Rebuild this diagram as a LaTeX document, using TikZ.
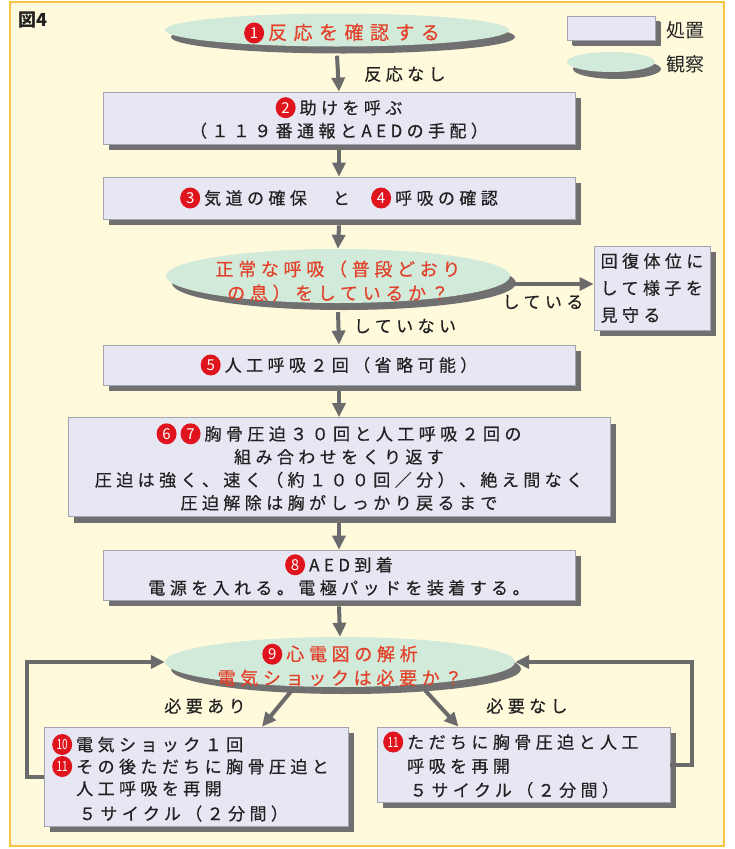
\documentclass[tikz,border=0pt]{standalone}
\usepackage{fontspec}
\usetikzlibrary{arrows.meta,shadows,shapes.geometric}
\newfontfamily\jp[LetterSpace=26,FakeBold=0.5]{Noto Sans CJK JP}
\newfontfamily\jpw[LetterSpace=34,FakeBold=0.5]{Noto Sans CJK JP}
\newfontfamily\jpn{Noto Sans CJK JP}
\definecolor{bgy}{HTML}{FFFADC}
\definecolor{framec}{HTML}{F5C446}
\definecolor{boxf}{HTML}{E7E6F3}
\definecolor{boxd}{HTML}{A4A4B0}
\definecolor{shad}{HTML}{707070}
\definecolor{ellf}{HTML}{D2EADA}
\definecolor{redt}{HTML}{E2412A}
\definecolor{numred}{HTML}{E0141C}
\definecolor{arr}{HTML}{6B6B6B}
\definecolor{txt}{HTML}{222222}
\newcommand\cnum[1]{\tikz[baseline=-6.5pt]\node[ellipse,fill=numred,text=white,inner sep=0pt,minimum width=20pt,minimum height=21pt,font=\jpn\fontsize{15}{15}\selectfont] (cn) {#1};\hspace{4pt}}
\newcommand\cnumd[1]{\tikz[baseline=-6.5pt]\node[ellipse,fill=numred,text=white,inner sep=0pt,minimum width=20pt,minimum height=21pt,font=\jpn\fontsize{14}{14}\selectfont] (cn) {\scalebox{0.72}[1]{#1}};\hspace{4pt}}
\tikzset{
  proc/.style={rectangle, fill=boxf, draw=boxd, line width=0.8pt,
    drop shadow={shadow xshift=6pt, shadow yshift=-6pt, fill=shad, opacity=1},
    text=txt, font=\jp\fontsize{17}{23}\selectfont, inner sep=2pt, align=center},
  obs/.style={ellipse, fill=ellf, draw=none, inner sep=0pt,
    drop shadow={shadow xshift=6pt, shadow yshift=-7pt, fill=shad, opacity=1}},
  etext/.style={text=redt, font=\jp\fontsize{18}{24}\selectfont, align=center, inner sep=0pt},
  flow/.style={draw=arr, line width=4pt, -{Triangle[length=14pt,width=13pt]}},
  lab/.style={text=txt, font=\jp\fontsize{17}{20}\selectfont, inner sep=0pt},
}
\begin{document}
\begin{tikzpicture}[x=1pt,y=-1pt]
\useasboundingbox (0,0) rectangle (734,849);
\fill[white] (0,0) rectangle (734,849);
\draw[draw=framec, fill=bgy, line width=2.5pt] (10,2) rectangle (724,846);
\node[text=txt, font=\jpn\bfseries\fontsize{18}{18}\selectfont] (fig) at (33,20) {図4};
% legend
\node[proc, minimum width=88pt, minimum height=24pt, drop shadow={shadow xshift=5pt, shadow yshift=-5pt, fill=shad, opacity=1}] (lg1) at (611,28) {};
\node[lab, anchor=west, font=\jpn\fontsize{19}{19}\selectfont] (lg1t) at (666,30) {処置};
\node[obs, minimum width=88pt, minimum height=20pt] (lg2) at (611,62) {};
\node[lab, anchor=west, font=\jpn\fontsize{19}{19}\selectfont] (lg2t) at (666,64) {観察};
% flow
\node[obs, minimum width=344pt, minimum height=33pt] (e1) at (337,30) {};
\node[etext, font=\jpw\fontsize{19}{24}\selectfont] (t1) at (342,33) {\cnum{1}反応を確認する};
\node[proc, minimum width=472pt, minimum height=52pt] (b2) at (339,118) {\cnum{2}助けを呼ぶ\\（１１９番通報とAEDの手配）};
\node[proc, minimum width=472pt, minimum height=42pt] (b3) at (339,198) {\cnum{3}気道の確保　と　\cnum{4}呼吸の確認};
\node[obs, minimum width=344pt, minimum height=54pt] (e2) at (338,276) {};
\node[etext] (t2) at (338,281) {正常な呼吸（普段どおり\\の息）をしているか？};
\node[proc, minimum width=116pt, minimum height=84pt, align=left, font=\jp\fontsize{17}{27}\selectfont] (rb) at (652,288) {回復体位に\\して様子を\\見守る};
\node[proc, minimum width=472pt, minimum height=40pt] (b5) at (339,365) {\cnum{5}人工呼吸２回（省略可能）};
\node[proc, minimum width=542pt, minimum height=99pt] (b67) at (339,467) {\cnum{6}\cnum{7}胸骨圧迫３０回と人工呼吸２回の\\組み合わせをくり返す\\圧迫は強く、速く（約１００回／分）、絶え間なく\\圧迫解除は胸がしっかり戻るまで};
\node[proc, minimum width=472pt, minimum height=50pt] (b8) at (339,575) {\cnum{8}AED到着\\電源を入れる。電極パッドを装着する。};
\node[obs, minimum width=350pt, minimum height=50pt] (e9) at (340,662) {};
\node[etext] (t9) at (340,665) {\cnum{9}心電図の解析\\電気ショックは必要か？};
\node[proc, minimum width=304pt, minimum height=99pt] (b10) at (196,776.5) {};
\node[lab, anchor=west, align=left, font=\jp\fontsize{17}{22}\selectfont] (t10) at (52,779) {\cnumd{10}電気ショック１回\\\cnumd{11}その後ただちに胸骨圧迫と\\\phantom{\cnumd{11}}人工呼吸を再開\\[3pt]\phantom{\cnumd{11}}\,５サイクル（２分間）};
\node[proc, minimum width=293pt, minimum height=75pt] (b11) at (523.5,764.5) {};
\node[lab, anchor=west, align=left, font=\jp\fontsize{17}{24}\selectfont] (t11) at (383,766) {\cnumd{11}ただちに胸骨圧迫と人工\\\phantom{\cnumd{11}}呼吸を再開\\\phantom{\cnumd{11}}\,５サイクル（２分間）};
% labels
\node[lab] (l1) at (405,74) {反応なし};
\node[lab] (l2) at (543,302) {している};
\node[lab] (l3) at (405,326) {していない};
\node[lab] (l4) at (205,706) {必要あり};
\node[lab] (l5) at (527,706) {必要なし};
% connectors
\coordinate (lc) at (27,776.5);
\coordinate (rc) at (692,764.5);
\draw[flow] ([yshift=-9pt]e1.south) -- (b2.north);
\draw[flow] ([yshift=-6pt]b2.south) -- (b3.north);
\draw[flow] ([yshift=-6pt]b3.south) -- (e2.north);
\draw[flow] ([xshift=3pt,yshift=-8pt]e2.east) -- ([yshift=-8pt]e2.east -| rb.west);
\draw[flow] ([yshift=-9pt]e2.south) -- (b5.north);
\draw[flow] ([yshift=-6pt]b5.south) -- (b67.north);
\draw[flow] ([yshift=-6pt]b67.south) -- (b8.north);
\draw[flow] ([yshift=-6pt]b8.south) -- (e9.north);
\draw[flow] ([xshift=-48pt,yshift=-3pt]e9.south) -- ([xshift=66pt]b10.north);
\draw[flow] ([xshift=85pt,yshift=-3pt]e9.south) -- ([xshift=-65pt]b11.north);
\draw[flow] (b10.west) -- (lc) |- (e9.west);
\draw[flow] (b11.east) -- (rc) |- (e9.east);
\end{tikzpicture}
\end{document}
